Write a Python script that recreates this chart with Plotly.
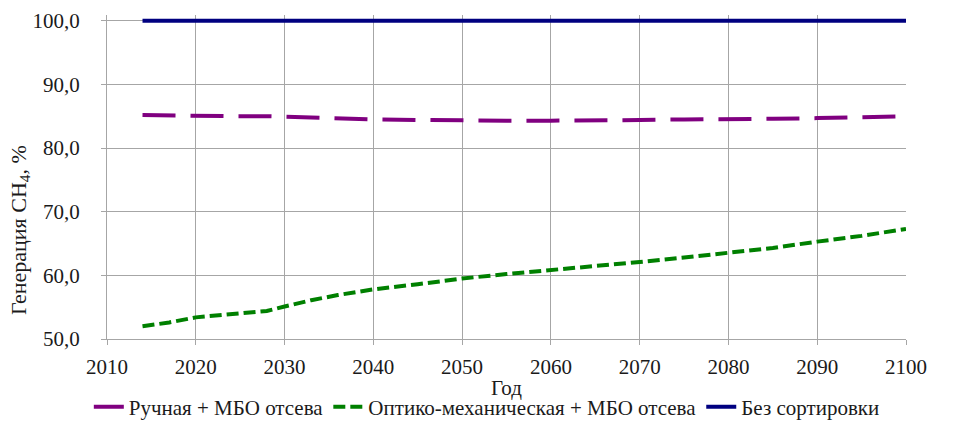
import plotly.graph_objects as go

years = [2014, 2017, 2020, 2024, 2028, 2030, 2033, 2036, 2040, 2045, 2050, 2055, 2060, 2065, 2070, 2075, 2080, 2085, 2090, 2095, 2100]
manual = [85.2, 85.1, 85.0, 85.0, 85.0, 84.9, 84.7, 84.6, 84.5, 84.4, 84.3, 84.3, 84.3, 84.3, 84.4, 84.5, 84.5, 84.6, 84.7, 84.8, 85.0]
optical = [52.0, 52.6, 53.4, 53.9, 54.4, 55.1, 56.1, 56.9, 57.8, 58.6, 59.5, 60.2, 60.8, 61.4, 62.1, 62.8, 63.6, 64.3, 65.3, 66.2, 67.3]
nosort = [100.0] * len(years)

names = ["Ручная + МБО отсева", "Оптико-механическая + МБО отсева", "Без сортировки"]
x_ticks = [2010, 2020, 2030, 2040, 2050, 2060, 2070, 2080, 2090, 2100]
y_ticks = [50, 60, 70, 80, 90, 100]
y_title = "Генерация CH<sub>4</sub>, %"
x_title = "Год"

fig = go.Figure()
fig.add_trace(go.Scatter(x=years, y=manual, name=names[0], mode="lines",
                         line=dict(color="#800080", width=4, dash="33px,15px")))
fig.add_trace(go.Scatter(x=years, y=optical, name=names[1], mode="lines",
                         line=dict(color="#008000", width=4, dash="12px,5px")))
fig.add_trace(go.Scatter(x=years, y=nosort, name=names[2], mode="lines",
                         line=dict(color="#000080", width=4)))

font = "Liberation Serif"
fig.update_layout(
    width=964, height=424,
    margin=dict(l=107, r=58, t=15, b=85),
    plot_bgcolor="white", paper_bgcolor="white",
    separators=", ",
    font=dict(family=font, size=21, color="#1a1a1a"),
    legend=dict(orientation="h", xref="container", x=0.505, xanchor="center",
                yref="container", y=0.088, yanchor="top",
                font=dict(family=font, size=21), tracegroupgap=0, itemwidth=30),
    showlegend=True,
)
fig.add_annotation(text=y_title, xref="paper", yref="paper", x=-0.109, y=0.336,
                   xanchor="center", yanchor="middle", textangle=-90, showarrow=False,
                   font=dict(family=font, size=22, color="#1a1a1a"))
fig.add_annotation(text=x_title, xref="paper", yref="paper", x=0.5, y=-0.151,
                   xanchor="center", yanchor="middle", showarrow=False,
                   font=dict(family=font, size=21, color="#1a1a1a"))
fig.update_xaxes(range=[2010, 2100], tickvals=x_ticks, tickformat="d", automargin=False,
                 tickfont=dict(family=font, size=21), ticklabelstandoff=4,
                 showgrid=True, gridcolor="#a6a6a6", gridwidth=1,
                 showline=True, linecolor="#a6a6a6", ticks="outside", ticklen=5, tickcolor="#a6a6a6",
                 zeroline=False)
fig.update_yaxes(range=[50, 100.9], tickvals=y_ticks, tickformat=".1f", automargin=False,
                 tickfont=dict(family=font, size=21), ticklabelstandoff=17,
                 showgrid=True, gridcolor="#a6a6a6", gridwidth=1,
                 showline=True, linecolor="#a6a6a6", ticks="outside", ticklen=5, tickcolor="#a6a6a6",
                 zeroline=False)

fig.write_html("out.html", config={"displayModeBar": False},
               post_script="document.body.style.margin='0';")
